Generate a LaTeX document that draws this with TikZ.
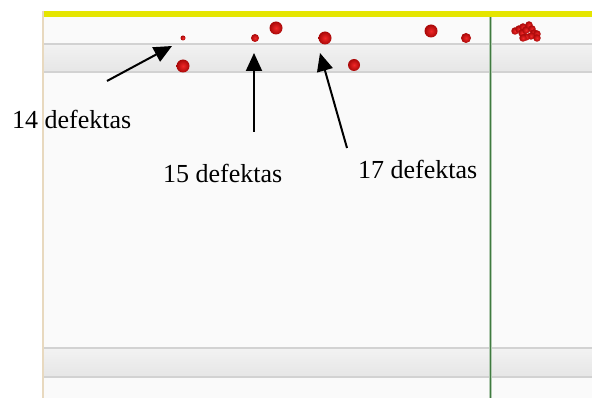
\documentclass[tikz,border=0pt]{standalone}
\usepackage{fontspec}
\setmainfont{Liberation Serif}
\usetikzlibrary{arrows.meta}
\definecolor{topyellow}{rgb}{0.90,0.90,0.0}
\definecolor{tanline}{HTML}{E8D9BF}
\definecolor{gline}{HTML}{3F7A3F}
\definecolor{bandedge}{HTML}{D2D2D2}
\definecolor{bandtop}{HTML}{F2F2F2}
\definecolor{bandbot}{HTML}{E6E6E6}
\definecolor{dotin}{HTML}{F02828}
\definecolor{dotout}{HTML}{A80808}
\tikzset{
  defect/.style={circle, inner sep=0pt, minimum size=#1, draw=none, inner color=dotin, outer color=dotout},
  lbl/.style={anchor=base west, inner sep=0pt, font=\fontsize{26}{30}\selectfont},
  pointer/.style={line width=2pt, -{Triangle[length=18pt,width=16pt]}},
}
\begin{document}
\begin{tikzpicture}[x=1pt,y=-1pt]
\useasboundingbox (0,0) rectangle (592,398);
\fill[white] (0,0) rectangle (592,398);
% panel background
\fill[black!2] (43,17) rectangle (592,398);
% bands
\shade[top color=bandtop, bottom color=bandbot] (43,44) rectangle (592,72);
\draw[bandedge, line width=2pt] (43,44) -- (592,44);
\draw[bandedge, line width=1.5pt] (43,72) -- (592,72);
\shade[top color=bandtop, bottom color=bandbot] (43,348) rectangle (592,377);
\draw[bandedge, line width=2pt] (43,348) -- (592,348);
\draw[bandedge, line width=1.5pt] (43,377) -- (592,377);
% yellow bar
\fill[fill=topyellow] (42,11) rectangle (592,17);
% left line
\draw[tanline, line width=2pt] (42.5,11) -- (42.5,398);
% green line
\draw[gline!40, line width=3pt] (490.5,17) -- (490.5,398);
\draw[gline, line width=1.2pt] (490.5,17) -- (490.5,398);
% defects
\node[defect=5pt] (d1) at (183,38) {};
\node[defect=13pt] (d2) at (183,66) {};
\node[defect=8pt] (d3) at (255,38) {};
\node[defect=13pt] (d4) at (276,28) {};
\node[defect=13pt] (d5) at (325,38) {};
\node[defect=12pt] (d6) at (354,65) {};
\node[defect=13pt] (d7) at (431,31) {};
\node[defect=10pt] (d8) at (466,38) {};
% cluster
\foreach \px/\py [count=\i] in {515/31,519/29,523/27,522/33,526/30,529/25,532/29,534/33,537/34,531/36,526/37,537/38,523/38}
  \node[defect=7.5pt] (c\i) at (\px,\py) {};
% labels
\node[lbl] (l14) at (12,129) {14 defektas};
\node[lbl] (l15) at (163,183) {15 defektas};
\node[lbl] (l17) at (358,179) {17 defektas};
% arrows
\coordinate (t14) at (107,81);
\coordinate (h14) at (172,46);
\coordinate (t15) at (254,132);
\coordinate (h15) at (254,53);
\coordinate (t17) at (347,148);
\coordinate (h17) at (320,53);
\draw[pointer] (t14) -- (h14);
\draw[pointer] (t15) -- (h15);
\draw[pointer] (t17) -- (h17);
\end{tikzpicture}
\end{document}
